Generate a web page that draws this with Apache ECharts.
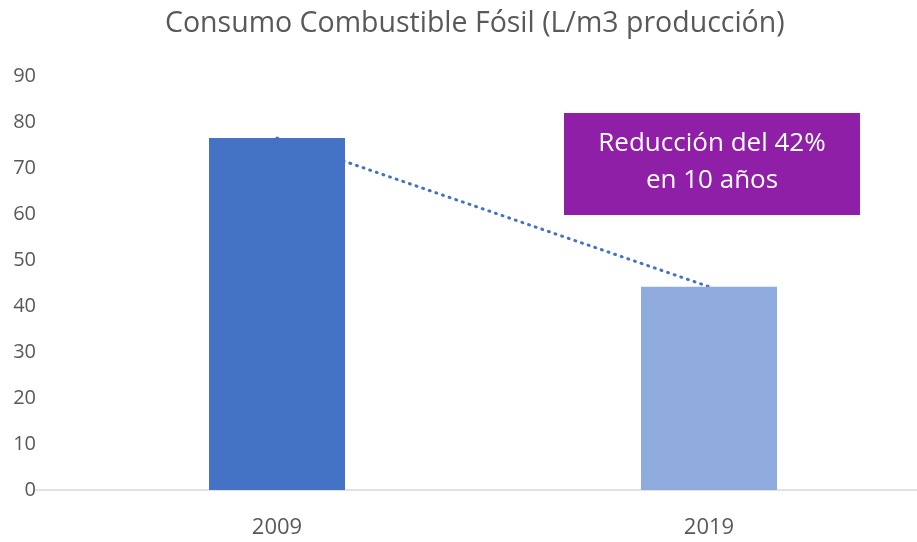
<!DOCTYPE html>
<html>
<head>
<meta charset="utf-8">
<script src="https://cdn.jsdelivr.net/npm/echarts@6/dist/echarts.min.js"></script>
<style>
  html, body { margin: 0; padding: 0; background: #fff; }
  #chart { width: 917px; height: 542px; }
</style>
</head>
<body>
<div id="chart"></div>
<script>
const years = ['2009', '2019']
const consumo = [76.5, 44.2]
const barColors = ['#4472C4', '#8FAADC']
const yTicks = { min: 0, max: 90, interval: 10 }

const chart = echarts.init(document.getElementById('chart'))
const font = '"Open Sans", "Noto Sans", sans-serif'
const hidden = { show: false }

chart.setOption({
  animation: false,
  title: {
    text: 'Consumo Combustible Fósil (L/m3 producción)',
    left: 160,
    top: 4,
    textStyle: { color: '#595959', fontSize: 28.5, fontWeight: 'normal', fontFamily: font },
  },
  grid: [
    { left: 61, right: -8, top: 76, bottom: 52, outerBoundsMode: 'none' },
    // only for the base line, which runs a bit further left than the plot
    { left: 34, right: 0, top: 76, bottom: 52, outerBoundsMode: 'none' },
  ],
  xAxis: [
    {
      type: 'category',
      data: years,
      axisTick: hidden,
      axisLine: hidden,
      axisLabel: { color: '#595959', fontSize: 22, margin: 27, fontFamily: font },
    },
    {
      gridIndex: 1,
      type: 'value',
      min: 0,
      max: 1,
      splitLine: hidden,
      axisTick: hidden,
      axisLabel: hidden,
      axisLine: { lineStyle: { color: '#D9D9D9', width: 1.5 } },
      z: 0,
    },
  ],
  yAxis: [
    {
      type: 'value',
      min: yTicks.min,
      max: yTicks.max,
      interval: yTicks.interval,
      splitLine: hidden,
      axisLine: hidden,
      axisTick: hidden,
      axisLabel: { color: '#595959', fontSize: 20, margin: 25, fontFamily: font },
    },
    { gridIndex: 1, type: 'value', show: false, min: 0, max: 1 },
  ],
  series: [
    {
      type: 'line',
      data: consumo,
      symbol: 'none',
      z: 1,
      lineStyle: { color: '#4472C4', width: 3, type: [1, 6], cap: 'round' },
    },
    {
      type: 'bar',
      data: consumo.map((v, i) => ({ value: v, itemStyle: { color: barColors[i] } })),
      barWidth: 136,
      z: 2,
    },
  ],
  graphic: [
    {
      type: 'group',
      left: 564,
      top: 113,
      children: [
        { type: 'rect', shape: { x: 0, y: 0, width: 296, height: 102 }, style: { fill: '#8E1FA6' } },
        {
          type: 'text',
          x: 148,
          y: 49,
          style: {
            text: 'Reducción del 42%\nen 10 años',
            fill: '#fff',
            fontSize: 26,
            lineHeight: 37,
            fontFamily: font,
            align: 'center',
            verticalAlign: 'middle',
          },
        },
      ],
    },
  ],
})
</script>
</body>
</html>
